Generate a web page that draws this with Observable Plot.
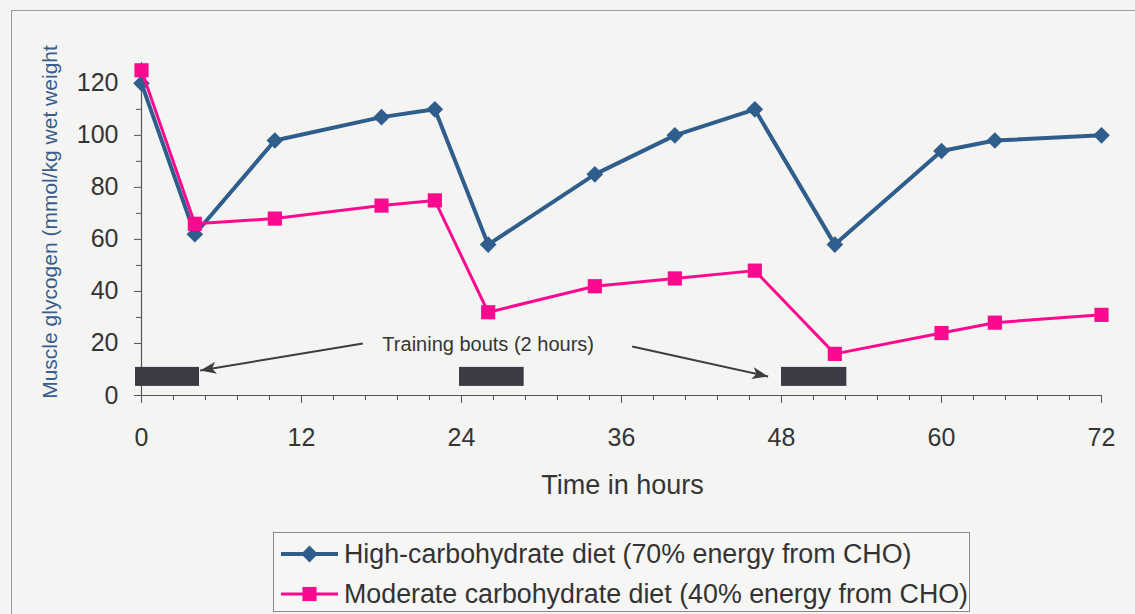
<!DOCTYPE html>
<html>
<head>
<meta charset="utf-8">
<script src="https://cdn.jsdelivr.net/npm/d3@7"></script>
<script src="https://cdn.jsdelivr.net/npm/@observablehq/plot@0.6"></script>
<style>
  html, body { margin: 0; padding: 0; background: #f4f4f2; }
  body { width: 1135px; height: 614px; overflow: hidden; position: relative; font-family: "Liberation Sans", Arial, sans-serif; }
  #frame { position: absolute; left: 11px; top: 10px; width: 1140px; height: 620px; border: 1px solid #9c9c9c; box-sizing: border-box; }
  #chart { position: absolute; left: 0; top: 0; }
  #legend { position: absolute; left: 273px; top: 532px; width: 697px; height: 80px; border: 1px solid #8a8a8a; box-sizing: border-box; background: #f6f6f4; }
  .row { position: absolute; left: 0; height: 36px; display: flex; align-items: center; font-size: 26.8px; color: #333; white-space: nowrap; }
  .row svg { margin-left: 7px; margin-right: 6px; }
</style>
</head>
<body>
<div id="frame"></div>
<div id="chart"></div>
<div id="legend"></div>
<script>
// ---- data ----
const hours = [0, 4, 10, 18, 22, 26, 34, 40, 46, 52, 60, 64, 72];
const highCHO = [120, 62, 98, 107, 110, 58, 85, 100, 110, 58, 94, 98, 100];
const moderateCHO = [125, 66, 68, 73, 75, 32, 42, 45, 48, 16, 24, 28, 31];
const seriesNames = ["High-carbohydrate diet (70% energy from CHO)", "Moderate carbohydrate diet (40% energy from CHO)"];
const boutStart = [-0.45, 23.85, 48];
const boutEnd = [4.35, 28.7, 52.9];
const boutLow = [3.5, 3.5, 3.5];
const boutHigh = [10.8, 10.8, 10.8];
const annotationText = ["Training bouts (2 hours)"];
const annotationX = [26];
const annotationY = [19.6];
const arrowFromX = [16.6, 36.8];
const arrowFromY = [20.0, 18.8];
const arrowToX = [4.4, 47.0];
const arrowToY = [9.6, 7.3];
const xTicks = [0, 12, 24, 36, 48, 60, 72];
const yTicks = [0, 20, 40, 60, 80, 100, 120];
const yMinorTicks = [10, 30, 50, 70, 90, 110];
const xMinorTicks = d3.range(0, 31).map(i => i * 2.4).filter(v => !xTicks.some(t => Math.abs(t - v) < 1e-6));
const yTitle = "Muscle glycogen (mmol/kg wet weight";
const xTitle = "Time in hours";

const BLUE = "#2f5d8c";
const PINK = "#fb0a8f";
const INK = "#353535";

const high = hours.map((h, i) => ({h, v: highCHO[i]}));
const moderate = hours.map((h, i) => ({h, v: moderateCHO[i]}));
const bouts = boutStart.map((s, i) => ({x1: s, x2: boutEnd[i], y1: boutLow[i], y2: boutHigh[i]}));
const arrows = arrowFromX.map((x, i) => ({x1: x, y1: arrowFromY[i], x2: arrowToX[i], y2: arrowToY[i]}));

function filledArrow(color, context) {
  const m = d3.select(context.document.createElementNS("http://www.w3.org/2000/svg", "marker"))
    .attr("viewBox", "-16 -6 16 12")
    .attr("markerWidth", 16)
    .attr("markerHeight", 12)
    .attr("refX", 0)
    .attr("refY", 0)
    .attr("markerUnits", "userSpaceOnUse")
    .attr("orient", "auto");
  m.append("path").attr("d", "M-16,-6L0,0L-16,6L-12,0Z").attr("fill", color).attr("stroke", "none");
  return m.node();
}

const H = 520;
const chart = Plot.plot({
  width: 1135,
  height: H,
  marginLeft: 141,
  marginRight: 34,
  marginTop: 62,
  marginBottom: H - 395,
  style: {background: "transparent", fontFamily: "'Liberation Sans', Arial, sans-serif", color: INK},
  x: {domain: [0, 72]},
  y: {domain: [0, 128]},
  marks: [
    Plot.ruleX([0], {y1: 0, y2: 128, stroke: "#555", strokeWidth: 1.2}),
    Plot.ruleY([0], {x1: 0, x2: 72, stroke: "#555", strokeWidth: 1.2}),
    Plot.axisY({ticks: yTicks, tickSize: 7, tickPadding: 16, fontSize: 25, label: null, stroke: "#555", color: INK}),
    Plot.axisY({ticks: yMinorTicks, tickSize: 5, tickFormat: () => "", label: null, stroke: "#555"}),
    Plot.axisX({ticks: xTicks, tickSize: 8, tickPadding: 25, fontSize: 25, label: null, stroke: "#555", color: INK}),
    Plot.axisX({ticks: xMinorTicks, tickSize: 5, tickFormat: () => "", label: null, stroke: "#555"}),
    Plot.text([yTitle], {frameAnchor: "left", dx: -91, dy: -7, rotate: -90, fontSize: 21, fill: "#3a5d8c", textAnchor: "middle", lineAnchor: "middle"}),
    Plot.text([xTitle], {frameAnchor: "bottom", dx: 1, dy: 90, fontSize: 27, fill: INK, textAnchor: "middle", lineAnchor: "middle"}),
    Plot.rect(bouts, {x1: "x1", x2: "x2", y1: "y1", y2: "y2", fill: "#3b3b45"}),
    Plot.link(arrows, {x1: "x1", y1: "y1", x2: "x2", y2: "y2", stroke: "#3d3d3d", strokeWidth: 2, markerEnd: filledArrow}),
    Plot.text(annotationText, {x: annotationX, y: annotationY, fontSize: 20, fill: INK, textAnchor: "middle", lineAnchor: "middle"}),
    Plot.line(high, {x: "h", y: "v", stroke: BLUE, strokeWidth: 4}),
    Plot.dot(high, {x: "h", y: "v", symbol: "diamond2", r: 7.5, fill: BLUE}),
    Plot.line(moderate, {x: "h", y: "v", stroke: PINK, strokeWidth: 3}),
    Plot.dot(moderate, {x: "h", y: "v", symbol: "square", r: 8, fill: PINK})
  ]
});
document.getElementById("chart").append(chart);

// ---- legend ----
const legend = d3.select("#legend");
const legendItems = [
  {name: seriesNames[0], color: BLUE, symbol: d3.symbolDiamond2, size: 180, width: 4},
  {name: seriesNames[1], color: PINK, symbol: d3.symbolSquare, size: 200, width: 3}
];
legendItems.forEach((item, i) => {
  const row = legend.append("div").attr("class", "row").style("top", (i === 0 ? 3 : 43) + "px");
  const svg = row.append("svg").attr("width", 57).attr("height", 30);
  svg.append("line").attr("x1", 0).attr("x2", 57).attr("y1", 15).attr("y2", 15)
    .attr("stroke", item.color).attr("stroke-width", item.width);
  svg.append("path").attr("transform", "translate(28.5,15)")
    .attr("d", d3.symbol(item.symbol, item.size)()).attr("fill", item.color);
  row.append("span").text(item.name);
});
</script>
</body>
</html>
